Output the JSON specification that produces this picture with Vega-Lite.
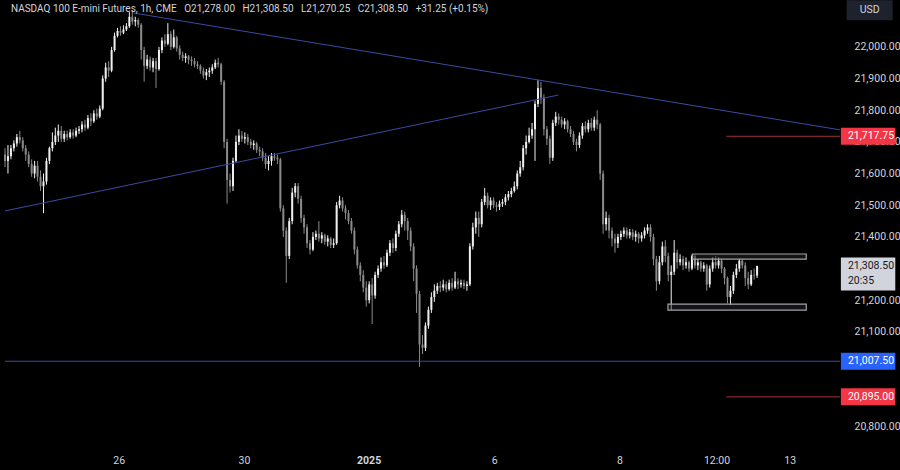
{
"$schema": "https://vega.github.io/schema/vega-lite/v6.json",
"width": 845, "height": 445,
"autosize": {"type": "none"},
"padding": {"left": 0, "top": 0, "right": 55, "bottom": 25},
"background": "#000000",
"config": {"view": {"stroke": null}, "font": "Roboto",
 "axis": {"domain": false, "ticks": false, "grid": false, "titleOpacity": 0, "labelColor": "#d1d4dc", "labelFontSize": 10.5, "labelFont": "Roboto"}},
"datasets": {
"candles": [
{"i":0,"o":21660,"h":21680,"l":21620,"c":21640},{"i":1,"o":21640,"h":21690,"l":21600,"c":21655},{"i":2,"o":21655,"h":21690,"l":21645,"c":21680},{"i":3,"o":21680,"h":21705,"l":21670,"c":21695},{"i":4,"o":21695,"h":21725,"l":21685,"c":21715},{"i":5,"o":21715,"h":21735,"l":21695,"c":21705},{"i":6,"o":21705,"h":21715,"l":21670,"c":21680},{"i":7,"o":21680,"h":21690,"l":21640,"c":21660},{"i":8,"o":21660,"h":21670,"l":21620,"c":21630},{"i":9,"o":21630,"h":21645,"l":21590,"c":21600},
{"i":10,"o":21600,"h":21640,"l":21585,"c":21625},{"i":11,"o":21625,"h":21640,"l":21575,"c":21590},{"i":12,"o":21590,"h":21610,"l":21545,"c":21560},{"i":13,"o":21560,"h":21600,"l":21475,"c":21575},{"i":14,"o":21575,"h":21650,"l":21565,"c":21640},{"i":15,"o":21640,"h":21685,"l":21630,"c":21680},{"i":16,"o":21680,"h":21730,"l":21670,"c":21700},{"i":17,"o":21700,"h":21745,"l":21690,"c":21720},{"i":18,"o":21720,"h":21755,"l":21700,"c":21735},{"i":19,"o":21735,"h":21750,"l":21700,"c":21710},
{"i":20,"o":21710,"h":21735,"l":21700,"c":21725},{"i":21,"o":21725,"h":21735,"l":21705,"c":21715},{"i":22,"o":21715,"h":21740,"l":21710,"c":21730},{"i":23,"o":21730,"h":21740,"l":21710,"c":21720},{"i":24,"o":21720,"h":21745,"l":21715,"c":21735},{"i":25,"o":21735,"h":21750,"l":21725,"c":21740},{"i":26,"o":21740,"h":21765,"l":21730,"c":21755},{"i":27,"o":21755,"h":21770,"l":21735,"c":21745},{"i":28,"o":21745,"h":21785,"l":21740,"c":21775},{"i":29,"o":21775,"h":21790,"l":21750,"c":21765},
{"i":30,"o":21765,"h":21800,"l":21760,"c":21790},{"i":31,"o":21790,"h":21805,"l":21770,"c":21780},{"i":32,"o":21780,"h":21815,"l":21775,"c":21805},{"i":33,"o":21805,"h":21910,"l":21800,"c":21900},{"i":34,"o":21900,"h":21950,"l":21890,"c":21935},{"i":35,"o":21935,"h":21955,"l":21905,"c":21925},{"i":36,"o":21925,"h":22000,"l":21920,"c":21990},{"i":37,"o":21990,"h":22045,"l":21985,"c":22035},{"i":38,"o":22035,"h":22060,"l":22030,"c":22050},{"i":39,"o":22050,"h":22065,"l":22035,"c":22045},
{"i":40,"o":22045,"h":22068,"l":22040,"c":22055},{"i":41,"o":22055,"h":22075,"l":22050,"c":22065},{"i":42,"o":22065,"h":22110,"l":22060,"c":22095},{"i":43,"o":22095,"h":22115,"l":22070,"c":22080},{"i":44,"o":22080,"h":22095,"l":22065,"c":22085},{"i":45,"o":22085,"h":22090,"l":22060,"c":22070},{"i":46,"o":22070,"h":22075,"l":21960,"c":21990},{"i":47,"o":21990,"h":22000,"l":21890,"c":21940},{"i":48,"o":21940,"h":21975,"l":21930,"c":21960},{"i":49,"o":21960,"h":21970,"l":21925,"c":21935},
{"i":50,"o":21935,"h":21965,"l":21920,"c":21955},{"i":51,"o":21955,"h":21965,"l":21870,"c":21930},{"i":52,"o":21930,"h":22000,"l":21925,"c":21990},{"i":53,"o":21990,"h":22030,"l":21980,"c":22020},{"i":54,"o":22020,"h":22040,"l":22000,"c":22010},{"i":55,"o":22010,"h":22075,"l":22005,"c":22040},{"i":56,"o":22040,"h":22050,"l":21990,"c":22000},{"i":57,"o":22000,"h":22055,"l":21995,"c":22030},{"i":58,"o":22030,"h":22035,"l":21985,"c":21995},{"i":59,"o":21995,"h":22005,"l":21960,"c":21975},
{"i":60,"o":21975,"h":21985,"l":21955,"c":21965},{"i":61,"o":21965,"h":21980,"l":21950,"c":21970},{"i":62,"o":21970,"h":21975,"l":21945,"c":21960},{"i":63,"o":21960,"h":21970,"l":21940,"c":21955},{"i":64,"o":21955,"h":21965,"l":21935,"c":21945},{"i":65,"o":21945,"h":21955,"l":21930,"c":21940},{"i":66,"o":21940,"h":21945,"l":21915,"c":21925},{"i":67,"o":21925,"h":21935,"l":21900,"c":21910},{"i":68,"o":21910,"h":21930,"l":21895,"c":21920},{"i":69,"o":21920,"h":21935,"l":21905,"c":21925},
{"i":70,"o":21925,"h":21945,"l":21915,"c":21935},{"i":71,"o":21935,"h":21960,"l":21930,"c":21950},{"i":72,"o":21950,"h":21965,"l":21935,"c":21945},{"i":73,"o":21945,"h":21950,"l":21880,"c":21890},{"i":74,"o":21890,"h":21895,"l":21680,"c":21700},{"i":75,"o":21700,"h":21710,"l":21505,"c":21580},{"i":76,"o":21580,"h":21600,"l":21540,"c":21560},{"i":77,"o":21560,"h":21650,"l":21545,"c":21640},{"i":78,"o":21640,"h":21720,"l":21635,"c":21700},{"i":79,"o":21700,"h":21740,"l":21690,"c":21720},
{"i":80,"o":21720,"h":21735,"l":21700,"c":21710},{"i":81,"o":21710,"h":21730,"l":21695,"c":21715},{"i":82,"o":21715,"h":21725,"l":21690,"c":21700},{"i":83,"o":21700,"h":21710,"l":21680,"c":21690},{"i":84,"o":21690,"h":21705,"l":21675,"c":21695},{"i":85,"o":21695,"h":21700,"l":21665,"c":21675},{"i":86,"o":21675,"h":21685,"l":21655,"c":21670},{"i":87,"o":21670,"h":21680,"l":21640,"c":21650},{"i":88,"o":21650,"h":21665,"l":21615,"c":21630},{"i":89,"o":21630,"h":21655,"l":21610,"c":21640},
{"i":90,"o":21640,"h":21665,"l":21625,"c":21655},{"i":91,"o":21655,"h":21665,"l":21640,"c":21650},{"i":92,"o":21650,"h":21660,"l":21630,"c":21645},{"i":93,"o":21645,"h":21650,"l":21480,"c":21490},{"i":94,"o":21490,"h":21500,"l":21400,"c":21420},{"i":95,"o":21420,"h":21430,"l":21255,"c":21340},{"i":96,"o":21340,"h":21460,"l":21330,"c":21450},{"i":97,"o":21450,"h":21555,"l":21440,"c":21540},{"i":98,"o":21540,"h":21570,"l":21525,"c":21560},{"i":99,"o":21560,"h":21570,"l":21505,"c":21520},
{"i":100,"o":21520,"h":21530,"l":21445,"c":21460},{"i":101,"o":21460,"h":21470,"l":21410,"c":21430},{"i":102,"o":21430,"h":21440,"l":21365,"c":21380},{"i":103,"o":21380,"h":21390,"l":21345,"c":21360},{"i":104,"o":21360,"h":21415,"l":21355,"c":21400},{"i":105,"o":21400,"h":21420,"l":21390,"c":21410},{"i":106,"o":21410,"h":21450,"l":21385,"c":21395},{"i":107,"o":21395,"h":21415,"l":21380,"c":21405},{"i":108,"o":21405,"h":21410,"l":21375,"c":21385},{"i":109,"o":21385,"h":21405,"l":21370,"c":21395},
{"i":110,"o":21395,"h":21400,"l":21365,"c":21375},{"i":111,"o":21375,"h":21395,"l":21365,"c":21380},{"i":112,"o":21380,"h":21510,"l":21375,"c":21500},{"i":113,"o":21500,"h":21530,"l":21490,"c":21515},{"i":114,"o":21515,"h":21525,"l":21480,"c":21490},{"i":115,"o":21490,"h":21500,"l":21455,"c":21475},{"i":116,"o":21475,"h":21485,"l":21440,"c":21450},{"i":117,"o":21450,"h":21460,"l":21410,"c":21420},{"i":118,"o":21420,"h":21430,"l":21345,"c":21360},{"i":119,"o":21360,"h":21370,"l":21300,"c":21310},
{"i":120,"o":21310,"h":21320,"l":21260,"c":21280},{"i":121,"o":21280,"h":21295,"l":21225,"c":21240},{"i":122,"o":21240,"h":21260,"l":21180,"c":21200},{"i":123,"o":21200,"h":21260,"l":21190,"c":21250},{"i":124,"o":21250,"h":21270,"l":21125,"c":21215},{"i":125,"o":21215,"h":21290,"l":21205,"c":21280},{"i":126,"o":21280,"h":21310,"l":21270,"c":21300},{"i":127,"o":21300,"h":21335,"l":21290,"c":21320},{"i":128,"o":21320,"h":21340,"l":21300,"c":21310},{"i":129,"o":21310,"h":21360,"l":21305,"c":21350},
{"i":130,"o":21350,"h":21390,"l":21340,"c":21380},{"i":131,"o":21380,"h":21395,"l":21350,"c":21365},{"i":132,"o":21365,"h":21420,"l":21355,"c":21410},{"i":133,"o":21410,"h":21450,"l":21400,"c":21440},{"i":134,"o":21440,"h":21485,"l":21430,"c":21470},{"i":135,"o":21470,"h":21480,"l":21420,"c":21450},{"i":136,"o":21450,"h":21460,"l":21390,"c":21420},{"i":137,"o":21420,"h":21430,"l":21355,"c":21370},{"i":138,"o":21370,"h":21380,"l":21260,"c":21300},{"i":139,"o":21300,"h":21310,"l":21160,"c":21220},
{"i":140,"o":21220,"h":21230,"l":20990,"c":21060},{"i":141,"o":21060,"h":21090,"l":21030,"c":21050},{"i":142,"o":21050,"h":21130,"l":21040,"c":21120},{"i":143,"o":21120,"h":21180,"l":21110,"c":21170},{"i":144,"o":21170,"h":21225,"l":21160,"c":21210},{"i":145,"o":21210,"h":21250,"l":21195,"c":21230},{"i":146,"o":21230,"h":21255,"l":21220,"c":21245},{"i":147,"o":21245,"h":21260,"l":21225,"c":21240},{"i":148,"o":21240,"h":21265,"l":21230,"c":21250},{"i":149,"o":21250,"h":21260,"l":21225,"c":21235},
{"i":150,"o":21235,"h":21265,"l":21230,"c":21255},{"i":151,"o":21255,"h":21270,"l":21230,"c":21240},{"i":152,"o":21240,"h":21290,"l":21235,"c":21260},{"i":153,"o":21260,"h":21270,"l":21235,"c":21250},{"i":154,"o":21250,"h":21265,"l":21240,"c":21255},{"i":155,"o":21255,"h":21265,"l":21235,"c":21245},{"i":156,"o":21245,"h":21260,"l":21230,"c":21250},{"i":157,"o":21250,"h":21380,"l":21245,"c":21370},{"i":158,"o":21370,"h":21445,"l":21360,"c":21430},{"i":159,"o":21430,"h":21480,"l":21410,"c":21460},
{"i":160,"o":21460,"h":21480,"l":21400,"c":21440},{"i":161,"o":21440,"h":21520,"l":21430,"c":21510},{"i":162,"o":21510,"h":21555,"l":21500,"c":21530},{"i":163,"o":21530,"h":21540,"l":21490,"c":21500},{"i":164,"o":21500,"h":21525,"l":21485,"c":21515},{"i":165,"o":21515,"h":21525,"l":21490,"c":21500},{"i":166,"o":21500,"h":21510,"l":21480,"c":21495},{"i":167,"o":21495,"h":21515,"l":21485,"c":21505},{"i":168,"o":21505,"h":21520,"l":21495,"c":21510},{"i":169,"o":21510,"h":21535,"l":21500,"c":21525},
{"i":170,"o":21525,"h":21545,"l":21515,"c":21535},{"i":171,"o":21535,"h":21555,"l":21525,"c":21545},{"i":172,"o":21545,"h":21575,"l":21540,"c":21560},{"i":173,"o":21560,"h":21610,"l":21550,"c":21600},{"i":174,"o":21600,"h":21640,"l":21590,"c":21620},{"i":175,"o":21620,"h":21690,"l":21610,"c":21680},{"i":176,"o":21680,"h":21720,"l":21660,"c":21700},{"i":177,"o":21700,"h":21745,"l":21695,"c":21720},{"i":178,"o":21720,"h":21760,"l":21710,"c":21740},{"i":179,"o":21740,"h":21830,"l":21640,"c":21820},
{"i":180,"o":21820,"h":21895,"l":21810,"c":21870},{"i":181,"o":21870,"h":21890,"l":21820,"c":21840},{"i":182,"o":21840,"h":21850,"l":21720,"c":21740},{"i":183,"o":21740,"h":21750,"l":21690,"c":21710},{"i":184,"o":21710,"h":21720,"l":21630,"c":21650},{"i":185,"o":21650,"h":21770,"l":21640,"c":21760},{"i":186,"o":21760,"h":21795,"l":21750,"c":21780},{"i":187,"o":21780,"h":21790,"l":21755,"c":21770},{"i":188,"o":21770,"h":21780,"l":21745,"c":21755},{"i":189,"o":21755,"h":21775,"l":21740,"c":21765},
{"i":190,"o":21765,"h":21770,"l":21730,"c":21740},{"i":191,"o":21740,"h":21750,"l":21715,"c":21725},{"i":192,"o":21725,"h":21735,"l":21690,"c":21700},{"i":193,"o":21700,"h":21710,"l":21670,"c":21690},{"i":194,"o":21690,"h":21730,"l":21680,"c":21720},{"i":195,"o":21720,"h":21760,"l":21710,"c":21750},{"i":196,"o":21750,"h":21765,"l":21730,"c":21740},{"i":197,"o":21740,"h":21770,"l":21730,"c":21760},{"i":198,"o":21760,"h":21775,"l":21735,"c":21745},{"i":199,"o":21745,"h":21780,"l":21735,"c":21770},
{"i":200,"o":21770,"h":21800,"l":21740,"c":21755},{"i":201,"o":21755,"h":21760,"l":21580,"c":21600},{"i":202,"o":21600,"h":21610,"l":21410,"c":21440},{"i":203,"o":21440,"h":21480,"l":21420,"c":21460},{"i":204,"o":21460,"h":21470,"l":21395,"c":21420},{"i":205,"o":21420,"h":21430,"l":21370,"c":21395},{"i":206,"o":21395,"h":21410,"l":21350,"c":21380},{"i":207,"o":21380,"h":21410,"l":21365,"c":21400},{"i":208,"o":21400,"h":21420,"l":21390,"c":21410},{"i":209,"o":21410,"h":21430,"l":21400,"c":21420},
{"i":210,"o":21420,"h":21430,"l":21395,"c":21405},{"i":211,"o":21405,"h":21425,"l":21395,"c":21415},{"i":212,"o":21415,"h":21425,"l":21390,"c":21400},{"i":213,"o":21400,"h":21420,"l":21385,"c":21410},{"i":214,"o":21410,"h":21415,"l":21380,"c":21395},{"i":215,"o":21395,"h":21415,"l":21385,"c":21405},{"i":216,"o":21405,"h":21430,"l":21395,"c":21420},{"i":217,"o":21420,"h":21440,"l":21410,"c":21430},{"i":218,"o":21430,"h":21440,"l":21385,"c":21400},{"i":219,"o":21400,"h":21410,"l":21310,"c":21330},
{"i":220,"o":21330,"h":21340,"l":21230,"c":21260},{"i":221,"o":21260,"h":21340,"l":21250,"c":21320},{"i":222,"o":21320,"h":21385,"l":21310,"c":21370},{"i":223,"o":21370,"h":21390,"l":21320,"c":21340},{"i":224,"o":21340,"h":21350,"l":21260,"c":21280},{"i":225,"o":21280,"h":21310,"l":21170,"c":21290},{"i":226,"o":21290,"h":21390,"l":21280,"c":21350},{"i":227,"o":21350,"h":21360,"l":21300,"c":21320},{"i":228,"o":21320,"h":21345,"l":21310,"c":21330},{"i":229,"o":21330,"h":21340,"l":21295,"c":21310},
{"i":230,"o":21310,"h":21335,"l":21300,"c":21320},{"i":231,"o":21320,"h":21325,"l":21290,"c":21300},{"i":232,"o":21300,"h":21345,"l":21295,"c":21340},{"i":233,"o":21340,"h":21345,"l":21300,"c":21310},{"i":234,"o":21310,"h":21330,"l":21295,"c":21320},{"i":235,"o":21320,"h":21325,"l":21290,"c":21300},{"i":236,"o":21300,"h":21320,"l":21290,"c":21310},{"i":237,"o":21310,"h":21315,"l":21230,"c":21250},{"i":238,"o":21250,"h":21310,"l":21240,"c":21300},{"i":239,"o":21300,"h":21335,"l":21290,"c":21320},
{"i":240,"o":21320,"h":21340,"l":21300,"c":21310},{"i":241,"o":21310,"h":21335,"l":21300,"c":21325},{"i":242,"o":21325,"h":21330,"l":21285,"c":21300},{"i":243,"o":21300,"h":21305,"l":21250,"c":21270},{"i":244,"o":21270,"h":21275,"l":21190,"c":21210},{"i":245,"o":21210,"h":21245,"l":21185,"c":21230},{"i":246,"o":21230,"h":21290,"l":21220,"c":21280},{"i":247,"o":21280,"h":21315,"l":21270,"c":21300},{"i":248,"o":21300,"h":21330,"l":21290,"c":21325},{"i":249,"o":21325,"h":21330,"l":21300,"c":21310},
{"i":250,"o":21310,"h":21320,"l":21245,"c":21270},{"i":251,"o":21270,"h":21290,"l":21235,"c":21250},{"i":252,"o":21250,"h":21295,"l":21245,"c":21280},{"i":253,"o":21280,"h":21300,"l":21265,"c":21278},{"i":254,"o":21278,"h":21308.5,"l":21270.25,"c":21308.5}
],
"levels": [
{"level":21717.75,"kind":"resistance"},
{"level":21007.5,"kind":"support"},
{"level":20895,"kind":"target"}
]
},
"layer": [
{"data":{"name":"candles"},"mark":{"type":"rule","strokeWidth":1},
 "encoding":{
  "x":{"field":"i","type":"quantitative","scale":{"domain":[0,282],"nice":false,"zero":false},
   "axis":{"title":null,"labelFlush":false,"labelOverlap":false,
    "values":[38.4,80.7,122.8,165.2,207.5,240.3,265],
    "labelExpr":"datum.value < 50 ? '26' : datum.value < 100 ? '30' : datum.value < 140 ? '2025' : datum.value < 180 ? '6' : datum.value < 220 ? '8' : datum.value < 250 ? '12:00' : '13'",
    "labelFontWeight":{"condition":{"test":"datum.value > 100 && datum.value < 140","value":"bold"},"value":"normal"},
    "labelPadding":10}},
  "y":{"field":"l","type":"quantitative","scale":{"domain":[20743,22148],"nice":false,"zero":false},
   "axis":{"title":null,"orient":"right","labelOverlap":false,"labelFlush":false,
    "values":[20800,21100,21200,21400,21500,21600,21700,21800,21900,22000],
    "format":",.2f","labelPadding":9}},
  "y2":{"field":"h"},
  "color":{"condition":{"test":"datum.c >= datum.o","value":"#f0f0f0"},"value":"#8a8a8a"}}},
{"data":{"name":"candles"},"mark":{"type":"bar","width":2},
 "encoding":{
  "x":{"field":"i","type":"quantitative","scale":{"domain":[0,282],"nice":false,"zero":false}},
  "y":{"field":"o","type":"quantitative","scale":{"domain":[20743,22148],"nice":false,"zero":false}},
  "y2":{"field":"c"},
  "color":{"condition":{"test":"datum.c >= datum.o","value":"#f0f0f0"},"value":"#8a8a8a"}}},
{"data":{"values":[{}]},"mark":{"type":"rule","color":"#3b4aa3","strokeWidth":1},
 "encoding":{"x":{"datum":0,"type":"quantitative","scale":{"domain":[0,282],"nice":false,"zero":false}},"x2":{"datum":282},
 "y":{"datum":21007.5,"type":"quantitative","scale":{"domain":[20743,22148],"nice":false,"zero":false}}}},
{"data":{"values":[{}]},"mark":{"type":"rule","color":"#3b4aa3","strokeWidth":1},
 "encoding":{"x":{"datum":43.4,"type":"quantitative","scale":{"domain":[0,282],"nice":false,"zero":false}},"x2":{"datum":282},
 "y":{"datum":22107,"type":"quantitative","scale":{"domain":[20743,22148],"nice":false,"zero":false}},"y2":{"datum":21738}}},
{"data":{"values":[{}]},"mark":{"type":"rule","color":"#3b4aa3","strokeWidth":1},
 "encoding":{"x":{"datum":0,"type":"quantitative","scale":{"domain":[0,282],"nice":false,"zero":false}},"x2":{"datum":186.9},
 "y":{"datum":21482,"type":"quantitative","scale":{"domain":[20743,22148],"nice":false,"zero":false}},"y2":{"datum":21848}}},
{"data":{"name":"levels"},"transform":[{"filter":"datum.kind != 'support'"}],"mark":{"type":"rule","color":"#a33232","strokeWidth":1},
 "encoding":{"x":{"datum":243.6,"type":"quantitative","scale":{"domain":[0,282],"nice":false,"zero":false}},"x2":{"datum":282},
 "y":{"field":"level","type":"quantitative","scale":{"domain":[20743,22148],"nice":false,"zero":false}}}},
{"data":{"values":[{}]},"mark":{"type":"rect","fill":"#2a2a2a","fillOpacity":0.45,"stroke":"#a0a3aa","strokeWidth":1.2},
 "encoding":{"x":{"datum":232.2,"type":"quantitative","scale":{"domain":[0,282],"nice":false,"zero":false}},"x2":{"datum":270.6},
 "y":{"datum":21346,"type":"quantitative","scale":{"domain":[20743,22148],"nice":false,"zero":false}},"y2":{"datum":21330}}},
{"data":{"values":[{}]},"mark":{"type":"rect","fill":"#2a2a2a","fillOpacity":0.45,"stroke":"#a0a3aa","strokeWidth":1.2},
 "encoding":{"x":{"datum":223.9,"type":"quantitative","scale":{"domain":[0,282],"nice":false,"zero":false}},"x2":{"datum":270.6},
 "y":{"datum":21188,"type":"quantitative","scale":{"domain":[20743,22148],"nice":false,"zero":false}},"y2":{"datum":21169}}},
{"data":{"name":"levels"},"mark":{"type":"point","shape":"M0,-1H6.4V1H0Z","filled":true,"size":289,"opacity":1,"strokeWidth":0},
 "encoding":{"x":{"datum":282.3,"type":"quantitative","scale":{"domain":[0,282],"nice":false,"zero":false}},
 "y":{"field":"level","type":"quantitative","scale":{"domain":[20743,22148],"nice":false,"zero":false}},
 "color":{"field":"kind","type":"nominal","scale":{"domain":["resistance","support","target"],"range":["#f23645","#2962ff","#f23645"]},"legend":null}}},
{"data":{"name":"levels"},"mark":{"type":"text","align":"left","baseline":"middle","dx":7,"fontSize":10.5,"color":"#ffffff","font":"Roboto"},
 "encoding":{"x":{"datum":282.3,"type":"quantitative","scale":{"domain":[0,282],"nice":false,"zero":false}},
 "y":{"field":"level","type":"quantitative","scale":{"domain":[20743,22148],"nice":false,"zero":false}},
 "text":{"field":"level","type":"quantitative","format":",.2f"}}},
{"data":{"values":[{}]},"mark":{"type":"point","shape":"M0,-1H6.4V2.9H0Z","filled":true,"size":289,"opacity":1,"strokeWidth":0,"color":"#d1d4dc"},
 "encoding":{"x":{"datum":282.3,"type":"quantitative","scale":{"domain":[0,282],"nice":false,"zero":false}},
 "y":{"datum":21308.5,"type":"quantitative","scale":{"domain":[20743,22148],"nice":false,"zero":false}}}},
{"data":{"values":[{"label":"21,308.50","line":0},{"label":"20:35","line":1}]},"mark":{"type":"text","align":"left","baseline":"middle","dx":7,"fontSize":10.5,"color":"#131722","font":"Roboto"},
 "encoding":{"x":{"datum":282.3,"type":"quantitative","scale":{"domain":[0,282],"nice":false,"zero":false}},
 "y":{"datum":21308.5,"type":"quantitative","scale":{"domain":[20743,22148],"nice":false,"zero":false}},
 "yOffset":{"field":"line","type":"quantitative","scale":{"domain":[0,1],"range":[0,15]}},
 "text":{"field":"label"}}},
{"data":{"values":[{}]},"mark":{"type":"text","align":"left","baseline":"middle","fontSize":10,"color":"#d1d4dc","font":"Roboto","text":"NASDAQ 100 E-mini Futures, 1h, CME\u00a0\u00a0\u00a0O21,278.00\u00a0\u00a0\u00a0H21,308.50\u00a0\u00a0\u00a0L21,270.25\u00a0\u00a0\u00a0C21,308.50\u00a0\u00a0\u00a0+31.25 (+0.15%)"},
 "encoding":{"x":{"datum":2,"type":"quantitative","scale":{"domain":[0,282],"nice":false,"zero":false}},
 "y":{"datum":22120,"type":"quantitative","scale":{"domain":[20743,22148],"nice":false,"zero":false}}}},
{"data":{"values":[{}]},"mark":{"type":"point","shape":"M-1.15,-0.5H1.15V0.5H-1.15Z","filled":true,"size":1600,"opacity":1,"strokeWidth":0,"color":"#1e222d"},
 "encoding":{"x":{"datum":292,"type":"quantitative","scale":{"domain":[0,282],"nice":false,"zero":false}},
 "y":{"datum":22116,"type":"quantitative","scale":{"domain":[20743,22148],"nice":false,"zero":false}}}},
{"data":{"values":[{}]},"mark":{"type":"text","align":"center","baseline":"middle","fontSize":10.5,"color":"#d1d4dc","font":"Roboto","text":"USD"},
 "encoding":{"x":{"datum":292,"type":"quantitative","scale":{"domain":[0,282],"nice":false,"zero":false}},
 "y":{"datum":22116,"type":"quantitative","scale":{"domain":[20743,22148],"nice":false,"zero":false}}}}
]
}
